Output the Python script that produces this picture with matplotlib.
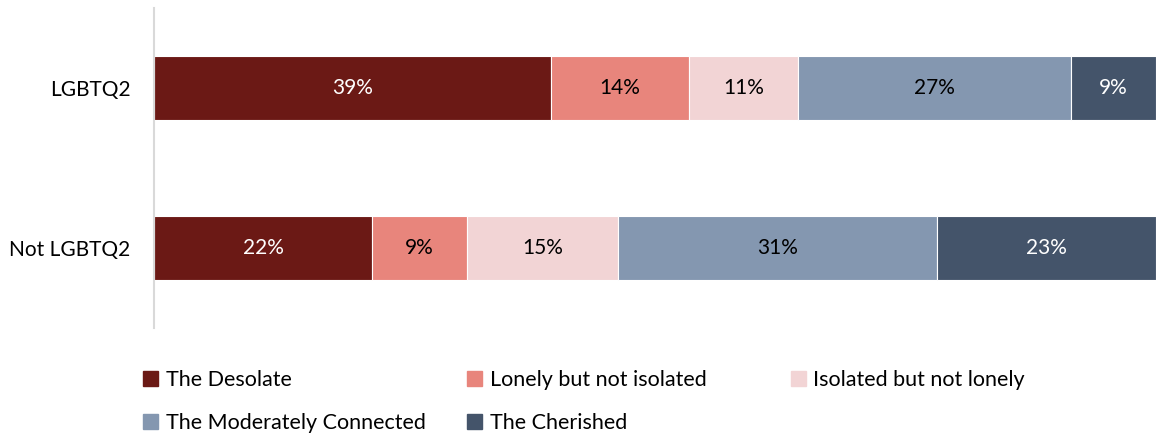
import matplotlib.pyplot as plt
from matplotlib.patches import Patch

plt.rcParams['font.family'] = ['Lato', 'DejaVu Sans']

# groups and segments (segment widths, labels as printed)
groups = ['LGBTQ2', 'Not LGBTQ2']
segments = ['The Desolate', 'Lonely but not isolated', 'Isolated but not lonely',
            'The Moderately Connected', 'The Cherished']
lgbtq2 = [39.6, 13.8, 10.9, 27.2, 8.5]
not_lgbtq2 = [21.8, 9.4, 15.1, 31.8, 21.9]
lgbtq2_labels = ['39%', '14%', '11%', '27%', '9%']
not_lgbtq2_labels = ['22%', '9%', '15%', '31%', '23%']

colors = ['#6B1915', '#E8857C', '#F2D4D5', '#8497B0', '#44546A']
text_colors = ['white', 'black', 'black', 'black', 'white']

fig = plt.figure(figsize=(11.56, 4.34), dpi=100)
ax = fig.add_axes([0.1332, 0.244, 0.8668, 0.738])

values = [lgbtq2, not_lgbtq2]
labels = [lgbtq2_labels, not_lgbtq2_labels]
for i, seg in enumerate(segments):
    widths = [v[i] for v in values]
    lefts = [sum(v[:i]) for v in values]
    bars = ax.barh(range(len(groups)), widths, left=lefts, height=0.4,
                   color=colors[i], edgecolor='white', linewidth=0.8, label=seg)
    ax.bar_label(bars, labels=[l[i] for l in labels], label_type='center',
                 color=text_colors[i], fontsize=15)

ax.set_xlim(0, 100)
ax.set_ylim(1.5, -0.5)
ax.set_yticks(range(len(groups)))
ax.set_yticklabels(groups, fontsize=15)
ax.tick_params(axis='y', length=0, pad=17)
ax.set_xticks([])
for s in ['top', 'right', 'bottom']:
    ax.spines[s].set_visible(False)
ax.spines['left'].set_color('#D9D9D9')
ax.spines['left'].set_linewidth(1.5)

# legend: three fixed-width columns like the original
handles = [Patch(color=c) for c in colors]
columns = [[0, 3], [1, 4], [2]]
col_x = [0.124, 0.404, 0.684]
for xs, idx in zip(col_x, columns):
    leg = fig.legend([handles[k] for k in idx], [segments[k] for k in idx],
                     loc='upper left', bbox_to_anchor=(xs, 0.148), ncol=1,
                     frameon=False, fontsize=15.5, handlelength=0.7,
                     handleheight=0.7, handletextpad=0.35, labelspacing=1.08,
                     borderpad=0, borderaxespad=0)

fig.savefig('out.png', dpi=100)
